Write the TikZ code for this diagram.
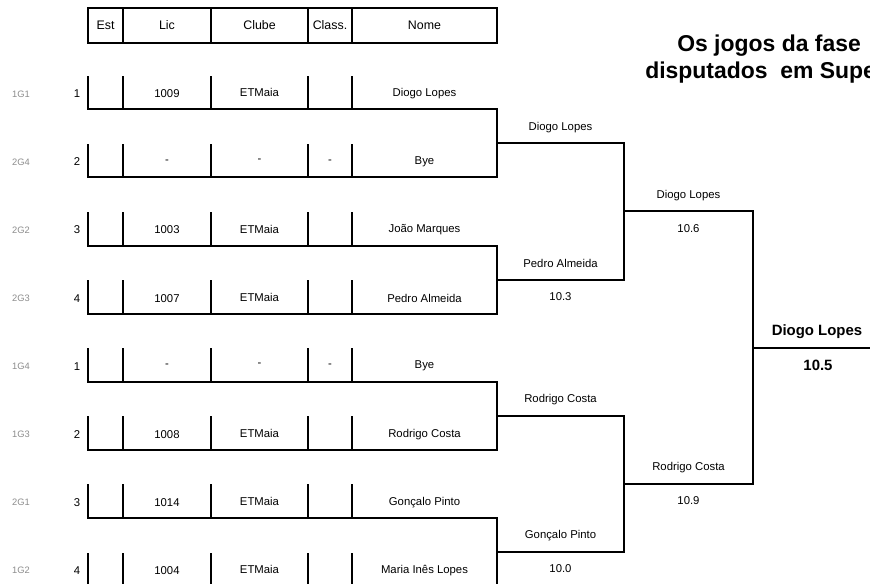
\documentclass[tikz,border=0pt]{standalone}
\usepackage{fontspec}
\setmainfont{Liberation Sans}
\begin{document}
\begin{tikzpicture}[x=0.75pt,y=-0.75pt,
  ln/.style={line width=1.5pt, line cap=rect},
  cell/.style={font=\fontsize{8.5}{10}\selectfont, inner sep=0pt},
  hdr/.style={font=\fontsize{9.3}{11}\selectfont, inner sep=0pt},
  grp/.style={font=\fontsize{7}{8}\selectfont, text=black!45, inner sep=0pt},
  lbl/.style={font=\fontsize{8.5}{10}\selectfont, inner sep=0pt},
  fin/.style={font=\bfseries\fontsize{11.2}{13}\selectfont, inner sep=0pt},
  ttl/.style={font=\bfseries\fontsize{17.2}{20}\selectfont, inner sep=0pt, anchor=west}]
\useasboundingbox (0,0) rectangle (870,583);
\clip (0,0) rectangle (870,583);

% header
\coordinate (hTL) at (88,8);
\coordinate (hBR) at (497,43);
\draw[ln] (hTL) rectangle (hBR);
\foreach \x in {123,211,308,352} \draw[ln] (\x,8) -- (\x,43);
\node[hdr] (hEst) at (105.5,25.5) {Est};
\node[hdr] (hLic) at (167,25.5) {Lic};
\node[hdr] (hClube) at (259.5,25) {Clube};
\node[hdr] (hClass) at (330,25.5) {Class.};
\node[hdr] (hNome) at (424.5,25.5) {Nome};

% row bottom corners
\coordinate (rL1) at (88,109.3);  \coordinate (rR1) at (497,109.3);
\coordinate (rL2) at (88,177.4);  \coordinate (rR2) at (497,177.4);
\coordinate (rL3) at (88,245.5);  \coordinate (rR3) at (497,245.5);
\coordinate (rL4) at (88,313.6);  \coordinate (rR4) at (497,313.6);
\coordinate (rL5) at (88,381.7);  \coordinate (rR5) at (497,381.7);
\coordinate (rL6) at (88,449.8);  \coordinate (rR6) at (497,449.8);
\coordinate (rL7) at (88,517.9);  \coordinate (rR7) at (497,517.9);
\coordinate (rL8) at (88,586.0);  \coordinate (rR8) at (497,586.0);
\foreach \i in {1,...,8} \draw[ln] (rL\i) -- (rR\i);

% rows
\foreach \i/\g/\n/\lic/\clb/\cls/\nm in {1/1G1/1/1009/ETMaia/{}/Diogo Lopes,2/2G4/2/-/-/-/Bye,3/2G2/3/1003/ETMaia/{}/João Marques,4/2G3/4/1007/ETMaia/{}/Pedro Almeida,5/1G4/1/-/-/-/Bye,6/1G3/2/1008/ETMaia/{}/Rodrigo Costa,7/2G1/3/1014/ETMaia/{}/Gonçalo Pinto,8/1G2/4/1004/ETMaia/{}/Maria Inês Lopes}{
  \pgfmathsetmacro\b{109.3+68.1*(\i-1)}
  \foreach \x in {88,123,211,308,352} \draw[ln] (\x,\b-32.5) -- (\x,\b);
  \node[grp] (g\i) at (21,\b-15.5) {\g};
  \node[cell] (n\i) at (77,\b-15.5) {\n};
  \node[cell] (lic\i) at (167,\b-15.5) {\lic};
  \node[cell] (clb\i) at (259.5,\b-16.5) {\clb};
  \node[cell] (cls\i) at (330,\b-15.5) {\cls};
  \node[cell] (nm\i) at (424.5,\b-15.5) {\nm};
}

% round 1 connectors
\coordinate (m12) at (497,143.35);  \coordinate (s12) at (624,143.35);
\coordinate (m34) at (497,279.55);  \coordinate (s34) at (624,279.55);
\coordinate (m56) at (497,415.75);  \coordinate (s56) at (624,415.75);
\coordinate (m78) at (497,551.95);  \coordinate (s78) at (624,551.95);
\draw[ln] (rR1) -- (rR2);
\draw[ln] (rR3) -- (rR4);
\draw[ln] (rR5) -- (rR6);
\draw[ln] (rR7) -- (rR8);
\draw[ln] (m12) -- (s12);
\draw[ln] (m34) -- (s34);
\draw[ln] (m56) -- (s56);
\draw[ln] (m78) -- (s78);

% round 2 connectors
\coordinate (m1234) at (624,211.45); \coordinate (s1234) at (753,211.45);
\coordinate (m5678) at (624,483.85); \coordinate (s5678) at (753,483.85);
\draw[ln] (s12) -- (s34);
\draw[ln] (s56) -- (s78);
\draw[ln] (m1234) -- (s1234);
\draw[ln] (m5678) -- (s5678);

% final
\coordinate (mf) at (753,347.65); \coordinate (sf) at (880,347.65);
\draw[ln] (s1234) -- (s5678);
\draw[ln] (mf) -- (sf);

% round 1 labels
\node[lbl] (w12) at (560.5,128) {Diogo Lopes};
\node[lbl] (w34) at (560.5,263.5) {Pedro Almeida};
\node[lbl] (p34) at (560.5,296.5) {10.3};
\node[lbl] (w56) at (560.5,399.5) {Rodrigo Costa};
\node[lbl] (w78) at (560.5,535.5) {Gonçalo Pinto};
\node[lbl] (p78) at (560.5,568.5) {10.0};

% round 2 labels
\node[lbl] (w1234) at (688.5,195.5) {Diogo Lopes};
\node[lbl] (p1234) at (688.5,228.5) {10.6};
\node[lbl] (w5678) at (688.5,467.5) {Rodrigo Costa};
\node[lbl] (p5678) at (688.5,500.5) {10.9};

% final labels
\node[fin] (wf) at (817,331.5) {Diogo Lopes};
\node[fin] (pf) at (818,365) {10.5};

% title
\node[ttl] (t1) at (677,46) {Os jogos da fase};
\node[ttl] (t2) at (645,73) {disputados\ \ em Supe};
\end{tikzpicture}
\end{document}
